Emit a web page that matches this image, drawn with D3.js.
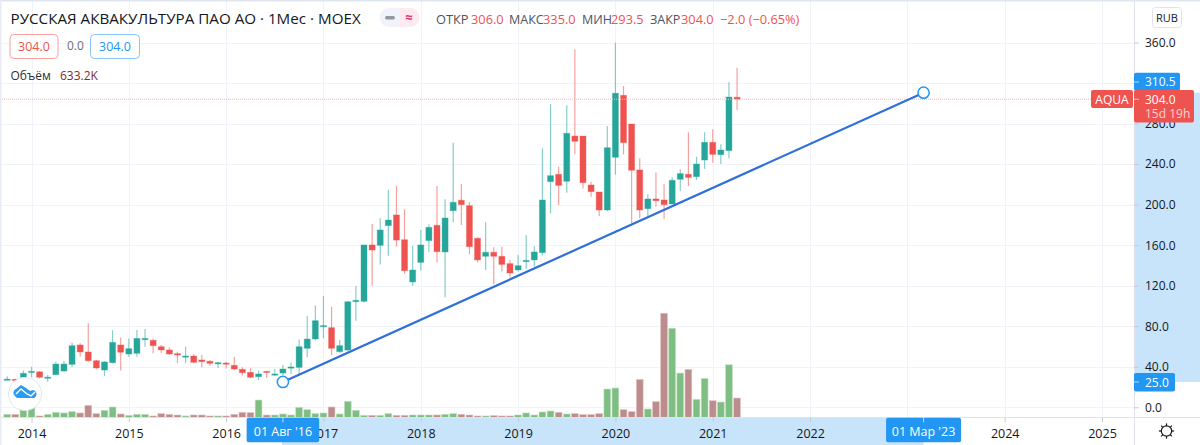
<!DOCTYPE html>
<html><head><meta charset="utf-8">
<script src="https://cdn.jsdelivr.net/npm/d3@7"></script>
<style>html,body{margin:0;padding:0;background:#fff;overflow:hidden}svg{display:block}text{font-family:"Open Sans","Noto Sans",sans-serif}</style>
</head><body><svg id="c" width="1200" height="445"></svg>
<script>
const firstIndex = -3; // Oct 2013, index 0 = Jan 2014
const opens = [27.4,27.6,29.6,35,35,29.4,32.2,35.8,42.4,61.5,54.6,46,36.8,44,61.5,52.6,53.3,66.7,66.1,59.8,56.6,52.9,49.6,50.6,46.7,45.4,43.1,43.7,41.4,37.5,34.5,30.2,35.5,31.9,33.8,38.8,39.4,58.2,67.4,79.6,78.6,54.9,56.5,104.2,104.6,160.2,159.8,179.3,189.8,165.4,123.7,143,164.5,179.6,153.3,194,204.3,199,166.8,149,153,149,141.8,135.5,143.7,145.4,152.6,222.7,229.9,223,267.7,267.7,219.4,212.5,194.7,246.7,307.9,279.6,234.2,196,205.6,204.6,200.6,225,229.9,227.6,244,261.5,249.3,253.3,306];
const highs = [30.6,28.2,36.2,40,35.8,31.9,45,45.7,63.8,63.1,82.9,46.7,45.7,76,69,68,76.3,77.3,68,61.5,58.9,54.9,59.8,52.6,51.6,46.7,45,45,50,39.4,38.5,36.2,35.5,37.8,41.7,44,67,90,100.5,109.8,99.3,66.4,104.8,119.7,160.2,180.9,186.5,214.5,218.7,195.4,159.5,175,180.6,218.4,205.2,261,220.4,203,167.7,182.5,157.9,158.5,145.4,150.6,170,158.9,255.6,299.3,237.5,298,353.3,267.7,222.7,212.5,277.6,359.9,317,279.6,245.7,210.2,231.6,220.4,226.9,234.8,271.4,247.3,271.4,274.3,259.5,320.7,335];
const lows = [26.6,25.6,28.6,29.6,28.6,25.3,31.9,35,39.4,50,45,37.5,30.9,43.4,36.2,50,50,59.8,53.3,53.9,51.6,43.4,43.4,43.4,39.4,41.1,38.8,38.5,36.8,31.5,28.9,26.9,28.9,30.9,31.9,32.9,32.9,49.3,66,68,51.6,53.9,55.5,85.5,103.5,120,140.8,149.6,158.5,131.6,120,134.8,153.3,143,108.5,182.6,180,151,143,135.5,121.7,133.9,128.3,133.9,136.5,138.8,150,191.4,199.7,211.8,249.6,216,207.9,188.8,193.5,229.6,249.6,181.6,186.5,188.8,198,185.8,200.6,213.5,218.4,224.3,235.2,241.4,240.1,245.7,293.5];
const closes = [27.8,26.6,33.5,35.5,29.6,29.8,42.7,42.7,60.8,54.6,46,38.8,44.7,64.1,54.3,57.9,68,68,60.8,56.6,52.6,51.6,50.6,44.4,45,43.4,44,42.7,37.8,34.2,29.6,32.9,34.5,32.9,37.8,39.8,59.8,67.4,85.5,80.6,58.2,60.8,104.2,105.6,160.2,155.2,175,184.8,165,134.8,135.5,160.2,177.6,153.6,186.8,202.3,200,158.5,145.4,153,149,141,132.5,139.8,145,153.3,204.6,228.6,219,270.4,262.5,221.7,212.8,194.7,256.2,309.9,261.2,233.9,194.7,205.6,203.9,200,224,230.6,226.9,240.1,261.5,249.6,253.9,306.2,304];
const volumes = [98,98,305,327,44,98,164,142,185,142,392,120,229,338,109,65,98,98,44,120,98,76,44,76,76,44,44,44,98,164,153,567,76,76,109,76,327,251,120,142,338,109,523,229,65,65,65,120,65,65,76,76,76,76,98,120,98,76,44,44,55,44,44,76,142,76,174,207,164,109,120,87,87,120,927,959,251,185,1243,273,512,3412,2921,1450,1570,589,1275,545,501,1722,632];
const yearLabels = ["2014","2015","2016","2017","2018","2019","2020","2021","2022","","2024","2025"];
const yearIndex = [0,12,24,36,48,60,72,84,96,108,120,132];
const priceTicks = [0,40,80,120,160,200,240,280,320,360];
const hiddenPriceTick = 320;
const trendIndex = [31,110];
const trendPrice = [25,310.5];
const trendLabels = ["01 Авг '16","01 Мар '23"];
const lastPrice = 304.0;
const titleText = "РУССКАЯ АКВАКУЛЬТУРА ПАО АО · 1Мес · MOEX";

const PLOT_R = 1134, AXIS_Y = 417.3;
const x = d3.scaleLinear().domain([0,132]).range([31.5,1102]);
const y = d3.scaleLinear().domain([0,360]).range([407.3,42.5]);
const yv = d3.scaleLinear().domain([0,3420]).range([AXIS_Y,313]);
const GREEN="#26a69a", RED="#ef5350", BLUE="#2196f3", HL="#c8e4fb", FRAME="#e0e3eb", INK="#131722";
const svg = d3.select("#c");
svg.append("rect").attr("width",1200).attr("height",445).attr("fill","#fff");

// axis highlights
svg.append("rect").attr("x",PLOT_R).attr("y",y(trendPrice[1])).attr("width",66).attr("height",y(trendPrice[0])-y(trendPrice[1])).attr("fill",HL);
svg.append("rect").attr("x",x(trendIndex[0])-1).attr("y",AXIS_Y).attr("width",x(trendIndex[1])-x(trendIndex[0])+1).attr("height",445-AXIS_Y).attr("fill",HL);

// grid
const grid = svg.append("g");
grid.selectAll("line.h").data(priceTicks).join("line").attr("class","h").attr("x1",0).attr("x2",PLOT_R)
  .attr("y1",d=>Math.round(y(d))+.5).attr("y2",d=>Math.round(y(d))+.5).attr("stroke","#f0f3fa");
grid.selectAll("line.v").data(yearIndex).join("line").attr("class","v").attr("y1",0).attr("y2",AXIS_Y)
  .attr("x1",d=>Math.round(x(d))+.5).attr("x2",d=>Math.round(x(d))+.5).attr("stroke","#f0f3fa");

// volumes
const idx = i => i + firstIndex;
const up = i => closes[i]>=opens[i];
svg.append("g").selectAll("rect").data(volumes).join("rect")
  .attr("x",(d,i)=>x(idx(i))-3.4).attr("width",6.8)
  .attr("y",d=>yv(d)).attr("height",d=>AXIS_Y-yv(d))
  .attr("fill",(d,i)=>up(i)?"#7fbe82":"#bd8c8c").attr("stroke",(d,i)=>up(i)?"#c3e0c5":"#e0c6c6").attr("stroke-width",.6);

// candles
const cg = svg.append("g");
cg.selectAll("line").data(opens).join("line")
  .attr("x1",(d,i)=>x(idx(i))).attr("x2",(d,i)=>x(idx(i)))
  .attr("y1",(d,i)=>y(highs[i])).attr("y2",(d,i)=>y(lows[i]))
  .attr("stroke",(d,i)=>up(i)?GREEN:RED).attr("stroke-opacity",.55).attr("stroke-width",1.2);
cg.selectAll("rect").data(opens).join("rect")
  .attr("x",(d,i)=>x(idx(i))-3).attr("width",6)
  .attr("y",(d,i)=>y(Math.max(opens[i],closes[i])))
  .attr("height",(d,i)=>Math.max(1.2,Math.abs(y(opens[i])-y(closes[i]))))
  .attr("fill",(d,i)=>up(i)?GREEN:RED)
  .attr("stroke",(d,i)=>up(i)?GREEN:RED).attr("stroke-opacity",.35).attr("stroke-width",1);

// last price line
svg.append("line").attr("x1",0).attr("x2",PLOT_R).attr("y1",y(lastPrice)).attr("y2",y(lastPrice))
  .attr("stroke","#f8b6b4").attr("stroke-width",1).attr("stroke-dasharray","1 1");

// trend line
svg.append("line").attr("x1",x(trendIndex[0])).attr("y1",y(trendPrice[0])).attr("x2",x(trendIndex[1])).attr("y2",y(trendPrice[1]))
  .attr("stroke","#2f6fd8").attr("stroke-width",2.2);
svg.selectAll("circle.h").data(trendIndex).join("circle").attr("class","h").attr("cx",d=>x(d)).attr("cy",(d,i)=>y(trendPrice[i]))
  .attr("r",5.6).attr("fill","#fff").attr("stroke",BLUE).attr("stroke-width",1.5);

// axes
svg.append("line").attr("x1",PLOT_R+.5).attr("x2",PLOT_R+.5).attr("y1",0).attr("y2",445).attr("stroke",FRAME);
svg.append("line").attr("x1",0).attr("x2",1200).attr("y1",AXIS_Y+.2).attr("y2",AXIS_Y+.2).attr("stroke",FRAME);
const ya = d3.axisRight(y).tickValues(priceTicks).tickFormat(d=>d===hiddenPriceTick?"":d3.format(".1f")(d)).tickSize(5).tickPadding(6);
const gy = svg.append("g").attr("transform",`translate(${PLOT_R},0)`).call(ya);
gy.select(".domain").remove();
gy.selectAll("line").attr("stroke","#c6cad3");
gy.selectAll("text").attr("font-size",12).attr("fill",INK);
const xa = d3.axisBottom(x).tickValues(yearIndex).tickFormat((d,i)=>yearLabels[i]).tickSize(5).tickPadding(7);
const gx = svg.append("g").attr("transform",`translate(0,${AXIS_Y})`).call(xa);
gx.select(".domain").remove();
gx.selectAll("line").attr("stroke","#c6cad3");
gx.selectAll("text").attr("font-size",12.5).attr("font-weight",500).attr("fill",INK);

// frame
svg.append("rect").attr("x",0).attr("y",0).attr("width",1200).attr("height",1.5).attr("fill","#dfe6f1");
svg.append("rect").attr("x",0).attr("y",0).attr("width",1.5).attr("height",445).attr("fill","#e6ebf4");

// price labels
function lab(xp,yp,w,h,fill){return svg.append("rect").attr("x",xp).attr("y",yp).attr("width",w).attr("height",h).attr("rx",2).attr("fill",fill);}
function txt(xp,yp,s,size,fill,anchor,weight){return svg.append("text").attr("x",xp).attr("y",yp).text(s).attr("font-size",size).attr("fill",fill).attr("text-anchor",anchor||"start").attr("font-weight",weight||400);}
lab(PLOT_R,72.7,46,18,BLUE);
txt(1145,86.3,d3.format(".1f")(trendPrice[1]),12,"#fff","start",500);
lab(1091,90,42,18,RED);
txt(1112,103.5,"AQUA",12,"#fff","middle",500);
lab(PLOT_R,90,60,32.5,RED);
txt(1145,103.5,d3.format(".1f")(lastPrice),12,"#fff","start",500);
txt(1145,118,"15d 19h",12,"#fbd4d3");
lab(PLOT_R,373,41,18.5,BLUE);
txt(1145,386.5,d3.format(".1f")(trendPrice[0]),12,"#fff","start",500);
[[99.2],[82],[382]].forEach(a=>
  svg.append("line").attr("x1",PLOT_R).attr("x2",PLOT_R+5).attr("y1",a[0]).attr("y2",a[0]).attr("stroke","#fff").attr("stroke-opacity",.7));
// date labels
trendIndex.forEach((d,i)=>{
  const w=i?75:72.5;
  lab(x(d)-w/2,AXIS_Y+.5,w,24.5,BLUE);
  svg.append("line").attr("x1",x(d)).attr("x2",x(d)).attr("y1",AXIS_Y).attr("y2",AXIS_Y+5).attr("stroke","#fff").attr("stroke-opacity",.7);
  txt(x(d),AXIS_Y+19,trendLabels[i],12.5,"#fff","middle",500);
});

// header
txt(10.5,24,titleText,15.2,INK);
txt(436,24,"ОТКР",12.8,"#4f5361");
txt(471,24,"306.0",12.8,RED);
txt(509,24,"МАКС",12.5,"#4f5361");
txt(543,24,"335.0",12.8,RED);
txt(582,24,"МИН",12.5,"#4f5361");
txt(611,24,"293.5",12.8,RED);
txt(650,24,"ЗАКР",12.5,"#4f5361");
txt(681,24,"304.0",12.8,RED);
txt(720,24,"−2.0 (−0.65%)",12.8,RED);
// collapse pill
svg.append("path").attr("d","M400 8H389a9.5 9.5 0 0 0 0 19H400Z").attr("fill","#f0f3fa");
svg.append("rect").attr("x",385).attr("y",16).attr("width",10).attr("height",3.4).attr("rx",1.7).attr("fill","#9598a1");
svg.append("path").attr("d","M400 8H410a9.5 9.5 0 0 1 0 19H400Z").attr("fill","#fdeaf0");
txt(409,22,"≈",13,"#d6336c","middle",700);
// inputs
svg.append("rect").attr("x",10).attr("y",34.5).attr("width",48).attr("height",24).attr("rx",4).attr("fill","#fff").attr("stroke","#f7a09e");
txt(34,51,"304.0",12.5,RED,"middle");
txt(67,50,"0.0",12,"#6b6f7b");
svg.append("rect").attr("x",90.5).attr("y",34.5).attr("width",49).attr("height",24).attr("rx",4).attr("fill","#fff").attr("stroke","#86c6f8");
txt(115,51,"304.0",12.5,BLUE,"middle");
txt(10.5,80,"Объём",12,"#2a2e39");
txt(60,80,"633.2K",12,"#7f2d2d");

// RUB
svg.append("rect").attr("x",1152.5).attr("y",7.5).attr("width",29).attr("height",20).attr("rx",3).attr("fill","#fff").attr("stroke","#e0e3eb");
txt(1167,22,"RUB",11,INK,"middle");

// logo
svg.append("circle").attr("cx",25).attr("cy",394).attr("r",16.5).attr("fill","#fff").attr("stroke","#e4e6ec").attr("stroke-width",1);
svg.append("path").attr("d","M15 396a4 4 0 0 1 1-7l5-4 5 3 4 3 3-1a4 4 0 0 1 3 6 3 3 0 0 1-2 2H18a4 4 0 0 1-3-2Z").attr("fill","#2a9bee");
svg.append("path").attr("d","M16 394l5-5 6 5 4 2 4-4").attr("fill","none").attr("stroke","#fff").attr("stroke-width",1.4);

// gear
const gear=svg.append("g").attr("transform","translate(1166.5,431)").attr("fill","none").attr("stroke",INK).attr("stroke-width",1.2);
gear.append("circle").attr("r",5.2);
gear.selectAll("line").data(d3.range(8)).join("line").attr("x1",0).attr("x2",0).attr("y1",-5.2).attr("y2",-7.6).attr("transform",d=>`rotate(${d*45})`);
</script></body></html>
